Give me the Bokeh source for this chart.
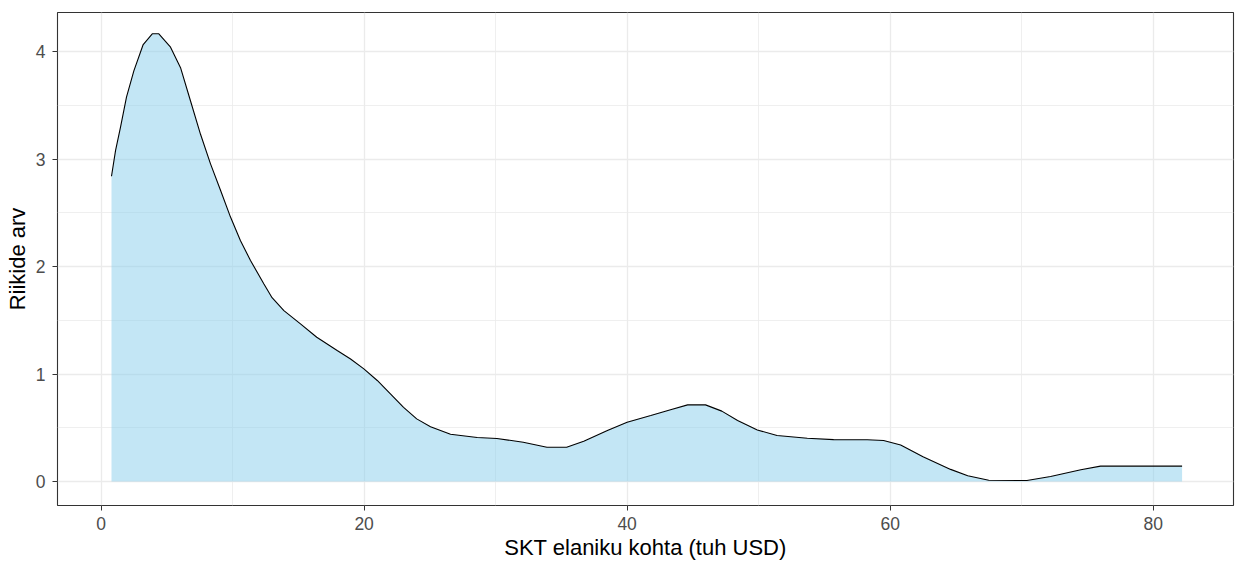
from bokeh.plotting import figure
from bokeh.models import FixedTicker, Range1d
from bokeh.embed import file_html
from bokeh.resources import INLINE

# density curve
gdp = [0.79, 1.1, 1.48, 1.93, 2.49, 3.2, 3.89, 4.39, 5.28, 6.04, 6.8, 7.56, 8.32, 9.08,
       9.84, 10.6, 11.36, 12.37, 13.0, 13.9, 15.16, 16.4, 17.95, 18.97, 19.98, 21.0,
       22.0, 23.0, 24.0, 25.05, 26.57, 28.6, 30.1, 32.1, 33.9, 35.4, 36.7, 38.5, 40.0,
       41.8, 43.3, 44.6, 45.96, 47.2, 48.4, 49.9, 51.4, 53.7, 55.7, 58.26, 59.5, 60.8,
       62.5, 64.6, 65.9, 67.5, 70.4, 72.2, 74.5, 76.0, 82.2]
density = [2.84, 3.08, 3.30, 3.575, 3.82, 4.065, 4.165, 4.165, 4.04, 3.85, 3.54, 3.23,
           2.955, 2.71, 2.46, 2.24, 2.056, 1.84, 1.71, 1.59, 1.467, 1.342, 1.219, 1.14,
           1.048, 0.94, 0.816, 0.69, 0.583, 0.51, 0.44, 0.41, 0.40, 0.366, 0.319, 0.319,
           0.375, 0.474, 0.552, 0.614, 0.667, 0.713, 0.713, 0.655, 0.567, 0.48, 0.428,
           0.403, 0.39, 0.388, 0.381, 0.34, 0.23, 0.113, 0.053, 0.012, 0.009, 0.047,
           0.109, 0.143, 0.143]

x_ticks = [0, 20, 40, 60, 80]
x_minor = [10, 30, 50, 70]
y_ticks = [0, 1, 2, 3, 4]
y_minor = [0.5, 1.5, 2.5, 3.5]

x_label = "SKT elaniku kohta (tuh USD)"
y_label = "Riikide arv"

FONT = "Liberation Sans"

p = figure(width=1236, height=562, output_backend="svg", toolbar_location=None,
           x_range=Range1d(-3.316, 86.11), y_range=Range1d(-0.223, 4.363),
           min_border_left=57, min_border_right=3, min_border_top=12, min_border_bottom=57)

p.varea(x=gdp, y1=0, y2=density, fill_color="#87CEEB", fill_alpha=0.5)
p.line(x=gdp, y=density, line_color="black", line_width=1.1)

p.xaxis.ticker = FixedTicker(ticks=x_ticks, minor_ticks=x_minor)
p.yaxis.ticker = FixedTicker(ticks=y_ticks, minor_ticks=y_minor)

for ax in (p.xaxis, p.yaxis):
    ax.axis_line_color = None
    ax.major_tick_line_color = "#333333"
    ax.major_tick_in = 0
    ax.major_tick_out = 5
    ax.minor_tick_line_color = None
    ax.major_label_text_font = FONT
    ax.major_label_text_font_size = "17.5px"
    ax.major_label_text_color = "#4D4D4D"
    ax.axis_label_text_font = FONT
    ax.axis_label_text_font_size = "22px"
    ax.axis_label_text_font_style = "normal"
    ax.axis_label_text_color = "black"

p.xaxis.major_label_standoff = 6
p.xaxis.axis_label_standoff = 2
p.yaxis.major_label_standoff = 7
p.yaxis.axis_label_standoff = 3

p.xaxis.axis_label = x_label
p.yaxis.axis_label = y_label

for g in (p.xgrid, p.ygrid):
    g.grid_line_color = "#EBEBEB"
    g.grid_line_width = 1.3
    g.minor_grid_line_color = "#EBEBEB"
    g.minor_grid_line_width = 0.8

p.outline_line_color = "#333333"
p.outline_line_width = 1.1
p.background_fill_color = "white"
p.border_fill_color = "white"

open("out.html", "w").write(file_html(p, INLINE))
